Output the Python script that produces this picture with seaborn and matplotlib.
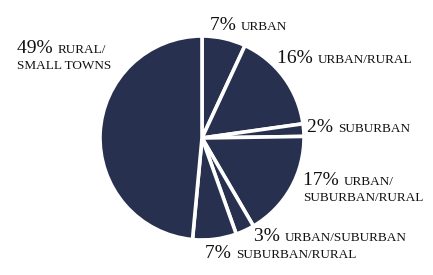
import matplotlib.pyplot as plt
import seaborn as sns

sns.set_theme(style="white")
plt.rcParams['font.family'] = ['Liberation Serif', 'DejaVu Serif']

# slices, clockwise from 12 o'clock
shares = [7, 16, 2, 17, 3, 7, 49]
pcts = ["7%", "16%", "2%", "17%", "3%", "7%", "49%"]
names = ["URBAN", "URBAN/RURAL", "SUBURBAN", "URBAN/\nSUBURBAN/RURAL",
         "URBAN/SUBURBAN", "SUBURBAN/RURAL", "RURAL/\nSMALL TOWNS"]
# label anchors (left, baseline) in figure pixels from top-left
label_px = [(210, 30), (277, 63), (307, 132), (303, 185),
            (254, 241), (205, 258), (17, 53)]

W, H = 433, 275
fig = plt.figure(figsize=(W / 100, H / 100), dpi=100)

# pie axes: centre ~(202,138), radius ~102 px
cx, cy, r = 202, 138, 102
ax = fig.add_axes([(cx - r) / W, 1 - (cy + r) / H, 2 * r / W, 2 * r / H])
ax.pie(shares, startangle=90, counterclock=False, colors=["#27314f"] * len(shares),
       wedgeprops=dict(edgecolor="white", linewidth=2.6))
ax.set_xlim(-1, 1)
ax.set_ylim(-1, 1)
ax.set_aspect("equal")
ax.axis("off")

line_gap = 16  # px between the two lines of a label
for pct, name, (x, y) in zip(pcts, names, label_px):
    lines = name.split("\n")
    t = fig.text(x / W, 1 - y / H, pct + " ", fontsize=14, color="#111111",
                 ha="left", va="baseline")
    fig.canvas.draw()
    bb = t.get_window_extent()
    fig.text(bb.x1 / W, 1 - y / H, lines[0], fontsize=9.5, color="#111111",
             ha="left", va="baseline")
    if len(lines) > 1:
        fig.text(x / W, 1 - (y + line_gap) / H, lines[1], fontsize=9.5,
                 color="#111111", ha="left", va="baseline")

fig.savefig("out.png", dpi=100, facecolor="white")
